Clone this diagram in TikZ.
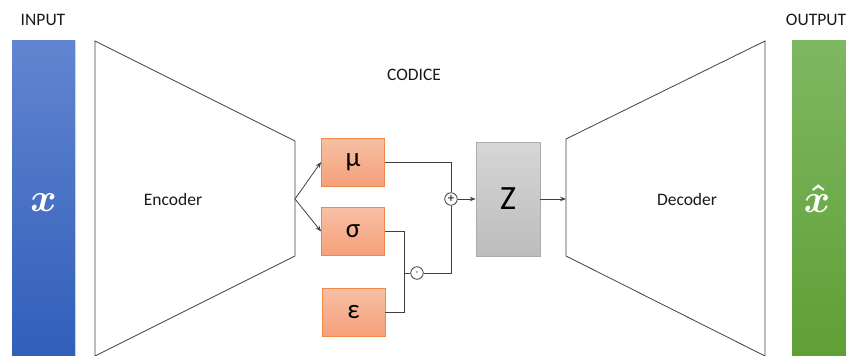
\documentclass[tikz,border=0pt]{standalone}
\usepackage{fontspec}
\setmainfont{Carlito}
\usetikzlibrary{arrows.meta,shadows}

\definecolor{linegray}{HTML}{404040}
\definecolor{bluetop}{HTML}{6185D0}
\definecolor{bluebot}{HTML}{2F5DB9}
\definecolor{greentop}{HTML}{7EB862}
\definecolor{greenbot}{HTML}{5E9E33}
\definecolor{orangetop}{HTML}{F8BFA5}
\definecolor{orangebot}{HTML}{F4A07A}
\definecolor{orangeline}{HTML}{F0884A}
\definecolor{graytop}{HTML}{D6D6D6}
\definecolor{graybot}{HTML}{BDBDBD}
\definecolor{grayline}{HTML}{ABABAB}

\tikzset{
  label text/.style={font=\fontsize{17.5}{17.5}\selectfont, text=black!90},
  bar/.style={minimum width=63, minimum height=330, inner sep=0,
    drop shadow={opacity=0.25, shadow xshift=1.2pt, shadow yshift=-1.2pt}},
  latent/.style={draw=orangeline, line width=0.8pt, top color=orangetop,
    bottom color=orangebot, minimum width=63, minimum height=48, inner sep=0,
    font=\fontsize{27}{27}\selectfont},
  wire/.style={draw=linegray, line width=0.8pt},
  arr/.style={wire, -{Stealth[length=6pt,width=4.5pt]}},
  op/.style={circle, draw=linegray, line width=0.8pt, fill=white,
    minimum size=12.5, inner sep=0},
  net/.style={draw=linegray, line width=0.8pt, line join=miter}
}

\begin{document}
\begin{tikzpicture}[x=1pt, y=-1pt]
  \useasboundingbox (0,0) rectangle (846,356);
  \clip (0,0) rectangle (846,356);

  % input and output vectors
  \node[label text] (inlbl) at (43,20) {INPUT};
  \node[bar, top color=bluetop, bottom color=bluebot, anchor=north]
    (inbar) at (43.5,40) {};
  \node[text=white] (xin) at (43.5,203) {\scalebox{4}{\boldmath$x$}};

  \node[label text] (outlbl) at (816,20) {OUTPUT};
  \node[bar, top color=greentop, bottom color=greenbot, anchor=north]
    (outbar) at (823.5,40) {};
  \node[text=white] (xout) at (817,199) {\scalebox{4}{\boldmath$\hat{x}$}};

  % encoder and decoder
  \draw[net] (95,41) -- (295,141) -- (295,256) -- (95,356) -- cycle;
  \coordinate (enctip) at (295,199);
  \node[label text] (enclbl) at (173,199) {Encoder};

  \draw[net] (566,139) -- (765,41) -- (765,356) -- (566,256) -- cycle;
  \coordinate (dectip) at (566,199);
  \node[label text] (declbl) at (687,199) {Decoder};

  \node[label text] (codlbl) at (414,75) {CODICE};

  % latent parameters
  \node[latent] (mu) at (353,162) {μ};
  \node[latent] (sigma) at (353,231.5) {σ};
  \node[latent] (eps) at (353.5,312) {ε};

  % latent code
  \node[draw=grayline, line width=0.6pt, top color=graytop, bottom color=graybot,
    minimum width=64, minimum height=114, inner sep=0,
    font=\fontsize{34}{34}\selectfont] (z) at (508,199) {Z};

  % reparametrisation operators
  \node[op, font=\fontsize{13}{13}\selectfont] (plus) at (451,199) {+};
  \node[op, font=\fontsize{13}{13}\selectfont] (dot) at (417,273) {$\cdot$};
  \coordinate (jn) at (404,273);

  % connectors
  \draw[arr] (enctip) -- (mu.west);
  \draw[arr] (enctip) -- (sigma.west);
  \draw[wire] (mu.east) -| (plus.north);
  \draw[wire] (sigma.east) -| (jn);
  \draw[wire] (eps.east) -| (jn);
  \draw[wire] (jn) -- (dot.west);
  \draw[wire] (dot.east) -| (plus.south);
  \draw[arr] (plus.east) -- (z.west);
  \draw[arr] (z.east) -- (dectip);
\end{tikzpicture}
\end{document}
